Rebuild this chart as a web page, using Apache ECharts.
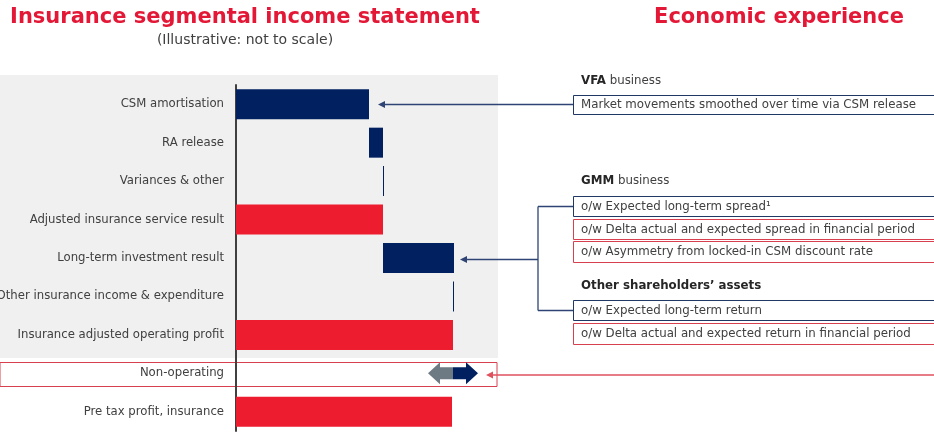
<!DOCTYPE html>
<html>
<head>
<meta charset="utf-8">
<script src="https://cdn.jsdelivr.net/npm/echarts@6/dist/echarts.min.js"></script>
<style>
  html, body { margin: 0; padding: 0; background: #fff; }
  #chart { width: 934px; height: 433px; }
</style>
</head>
<body>
<div id="chart"></div>
<script>
// rows of the income statement, top to bottom
let categories = [
    "CSM amortisation",
    "RA release",
    "Variances & other",
    "Adjusted insurance service result",
    "Long-term investment result",
    "Other insurance income & expenditure",
    "Insurance adjusted operating profit",
    "Non-operating",
    "Pre tax profit, insurance"
]
// illustrative waterfall: invisible base + visible bar
let baseValues = [0, 133, 147, 0, 147, 217, 0, 0, 0]
let barValues = [133, 14, 1, 147, 71, 1, 217, 0, 216]
let barKinds = ["move", "move", "move", "total", "move", "move", "total", "none", "total"]
// non-operating: swing either way from the operating profit
let nonOpBase = 217
let nonOpDown = 25
let nonOpUp = 25

const NAVY = "#002060"
const RED = "#ED1C2E"
const GREY_ARROW = "#6E7A83"
const LINE = "#2F4474"
const FONT = "DejaVu Sans"

let chartDom = document.getElementById("chart")
let myChart = echarts.init(chartDom)

let barData = barValues.map((v, i) => ({
    value: barKinds[i] === "none" ? "-" : v,
    itemStyle: { color: barKinds[i] === "total" ? RED : NAVY }
}))

let arrowData = [
    [nonOpBase, nonOpBase - nonOpDown, 7, GREY_ARROW],
    [nonOpBase, nonOpBase + nonOpUp, 7, NAVY]
]

function renderArrow(params, api) {
    let p0 = api.coord([api.value(0), api.value(2)])
    let p1 = api.coord([api.value(1), api.value(2)])
    let dir = p1[0] > p0[0] ? 1 : -1
    let head = 12, hh = 11, bh = 6
    let y = p0[1]
    let neck = p1[0] - dir * head
    return {
        type: "polygon",
        shape: {
            points: [
                [p0[0], y - bh], [neck, y - bh], [neck, y - hh], [p1[0], y],
                [neck, y + hh], [neck, y + bh], [p0[0], y + bh]
            ]
        },
        style: { fill: arrowData[params.dataIndex][3] }
    }
}

function box(y, h, color) {
    return {
        type: "rect", shape: { x: 573.5, y: y + 0.5, width: 380, height: h },
        style: { fill: "#fff", stroke: color, lineWidth: 1 }
    }
}
function txt(x, y, text, size, extra) {
    return {
        type: "text", x: x, y: y,
        style: Object.assign({
            text: text, fill: "#404040", fontFamily: FONT, fontSize: size,
            verticalAlign: "middle", textAlign: "left"
        }, extra || {})
    }
}
function hline(x1, x2, y, color) {
    return { type: "line", shape: { x1: x1, y1: y, x2: x2, y2: y }, style: { stroke: color, lineWidth: 1.3 } }
}
function tip(x, y, color) {
    return { type: "polygon", shape: { points: [[x, y], [x + 7, y - 3.5], [x + 7, y + 3.5]] }, style: { fill: color } }
}

const RT = 11.8
let rich = {
    b: { fontWeight: "bold", fontFamily: FONT, fontSize: RT, fill: "#262626" },
    n: { fontFamily: FONT, fontSize: RT, fill: "#404040" }
}

let option = {
    animation: false,
    grid: { left: 236, right: 437, top: 85, height: 346, outerBoundsMode: "none" },
    xAxis: { type: "value", min: 0, max: 261, show: false },
    yAxis: {
        type: "category",
        inverse: true,
        data: categories,
        axisLine: { show: true, lineStyle: { color: "#404040", width: 2 } },
        axisTick: { show: false },
        splitLine: { show: false },
        axisLabel: { color: "#404040", fontFamily: FONT, fontSize: 11.7, margin: 12 }
    },
    graphic: [
        { type: "rect", z: -10, shape: { x: 0, y: 75, width: 498, height: 283 }, style: { fill: "#F0F0F0" } },
        { type: "rect", z: -10, shape: { x: 0, y: 362.5, width: 497, height: 24 }, style: { fill: "#fff", stroke: "#D9404F", lineWidth: 1 } },
        txt(245, 18, "Insurance segmental income statement", 21, { fill: "#E31837", fontWeight: "bold", textAlign: "center" }),
        txt(245, 40, "(Illustrative: not to scale)", 14, { textAlign: "center" }),
        txt(779, 18, "Economic experience", 21, { fill: "#E31837", fontWeight: "bold", textAlign: "center" }),

        txt(581, 81, "{b|VFA}{n| business}", RT, { rich: rich }),
        box(95, 19, "#1F3864"),
        txt(581, 105, "Market movements smoothed over time via CSM release", RT),
        hline(385, 573, 104.5, LINE), tip(378, 104.5, LINE),

        txt(581, 181, "{b|GMM}{n| business}", RT, { rich: rich }),
        box(196, 20, "#1F3864"),
        txt(581, 206.5, "o/w Expected long-term spread\u00b9", RT),
        box(219, 20, "#D9404F"),
        txt(581, 229.5, "o/w Delta actual and expected spread in financial period", RT),
        box(241, 21, "#D9404F"),
        txt(581, 251.5, "o/w Asymmetry from locked-in CSM discount rate", RT),

        txt(581, 286, "Other shareholders\u2019 assets", RT, { fontWeight: "bold", fill: "#262626" }),
        box(300, 20, "#1F3864"),
        txt(581, 310.5, "o/w Expected long-term return", RT),
        box(323, 21, "#D9404F"),
        txt(581, 333.5, "o/w Delta actual and expected return in financial period", RT),

        { type: "line", shape: { x1: 538, y1: 206.5, x2: 538, y2: 310.5 }, style: { stroke: LINE, lineWidth: 1.3 } },
        hline(538, 573, 206.5, LINE), hline(538, 573, 310.5, LINE),
        hline(467, 538, 259.5, LINE), tip(460, 259.5, LINE),

        hline(493, 934, 375, "#E0505E"), tip(486, 375, "#E0505E")
    ],
    series: [
        {
            type: "bar", stack: "w", barWidth: 30, silent: true,
            itemStyle: { color: "transparent" },
            data: baseValues
        },
        {
            type: "bar", stack: "w", barWidth: 30,
            data: barData
        },
        {
            type: "custom",
            renderItem: renderArrow,
            encode: { x: [0, 1], y: 2 },
            data: arrowData.map(a => [a[0], a[1], a[2]])
        }
    ]
}

option && myChart.setOption(option)
</script>
</body>
</html>
